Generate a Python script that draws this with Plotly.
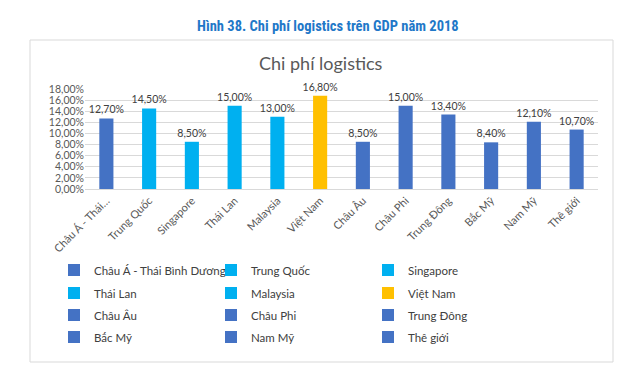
import plotly.graph_objects as go

categories = ["Châu Á - Thái Bình Dương", "Trung Quốc", "Singapore", "Thái Lan", "Malaysia",
              "Việt Nam", "Châu Âu", "Châu Phi", "Trung Đông", "Bắc Mỹ", "Nam Mỹ", "Thê giới"]
tick_labels = ["Châu Á - Thái…", "Trung Quốc", "Singapore", "Thái Lan", "Malaysia",
               "Việt Nam", "Châu Âu", "Châu Phi", "Trung Đông", "Bắc Mỹ", "Nam Mỹ", "Thê giới"]
values_pct = [12.7, 14.5, 8.5, 15.0, 13.0, 16.8, 8.5, 15.0, 13.4, 8.4, 12.1, 10.7]
colors = ["#4472C4", "#00B0F0", "#00B0F0", "#00B0F0", "#00B0F0", "#FFC000",
          "#4472C4", "#4472C4", "#4472C4", "#4472C4", "#4472C4", "#4472C4"]

W, H = 640, 372
L, R, T, B = 77, 50, 81, 191
pw, ph = W - L - R, H - T - B

def px_x(x):
    return (x - L) / pw

def px_y(y):
    return (H - B - y) / ph

FONT = "Lato, Open Sans, sans-serif"
TXT = "#595959"
legend_names = ["legend", "legend2", "legend3", "legend4"]
legend_rows_y = [270, 293, 315, 337]

fig = go.Figure()
for i, (cat, v, c) in enumerate(zip(categories, values_pct, colors)):
    fig.add_trace(go.Bar(
        x=[cat], y=[v / 100], name=cat, width=0.33,
        legend=legend_names[i // 3],
        marker=dict(color=c, line=dict(width=0)),
        texttemplate="%{y:.2%}", textposition="outside", cliponaxis=False,
        constraintext="none",
        textfont=dict(family=FONT, size=10.5, color="#404040"),
        hoverinfo="x+y",
    ))

legend_common = dict(
    orientation="h", xanchor="left", yanchor="middle",
    entrywidth=112, entrywidthmode="pixels",
    font=dict(family=FONT, size=11.5, color="#404040"),
    traceorder="normal", itemwidth=30, bgcolor="rgba(0,0,0,0)",
)
legend_layout = {}
for name, yy in zip(legend_names, legend_rows_y):
    legend_layout[name] = dict(legend_common, x=px_x(46), y=px_y(yy - 8))

fig.update_layout(
    width=W, height=H,
    margin=dict(l=L, r=R, t=T, b=B),
    paper_bgcolor="white", plot_bgcolor="white",
    barmode="overlay",
    separators=",.",
    font=dict(family=FONT, color=TXT),
    showlegend=True,
    xaxis=dict(
        categoryorder="array", categoryarray=categories,
        tickvals=categories, ticktext=tick_labels, tickangle=-45,
        tickfont=dict(family=FONT, size=11, color=TXT),
        showline=True, linecolor="#d9d9d9", linewidth=1, showgrid=False,
        ticks="",
    ),
    yaxis=dict(
        range=[0, 0.18], dtick=0.02, tickformat=".2%",
        tickfont=dict(family=FONT, size=10.5, color=TXT),
        showgrid=True, gridcolor="#d9d9d9", gridwidth=1, zeroline=False,
        showline=False, ticks="", ticklen=0,
    ),
    shapes=[dict(type="rect", xref="paper", yref="paper",
                 x0=px_x(22), x1=px_x(605), y0=px_y(354), y1=px_y(32),
                 line=dict(color="#d9d9d9", width=1), fillcolor="rgba(0,0,0,0)",
                 layer="below")],
    annotations=[
        dict(text="<b>Hình 38. Chi phí logistics trên GDP năm 2018</b>", xref="paper", yref="paper",
             x=px_x(320), y=px_y(18), xanchor="center", yanchor="middle", showarrow=False,
             font=dict(family="Liberation Sans Narrow, Roboto Condensed, sans-serif", size=14.5, color="#1F78C8")),
        dict(text="Chi phí logistics", xref="paper", yref="paper",
             x=px_x(313), y=px_y(55), xanchor="center", yanchor="middle", showarrow=False,
             font=dict(family=FONT, size=18, color=TXT)),
    ],
    **legend_layout,
)

fig.write_html("out.html")
